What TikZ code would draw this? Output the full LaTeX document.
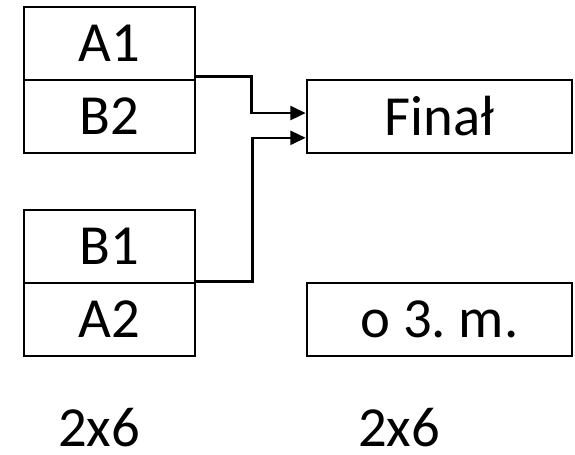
\documentclass[tikz,border=0pt]{standalone}
\usepackage{fontspec}
\setmainfont{Carlito}
\usetikzlibrary{arrows.meta, positioning}
\frenchspacing

\tikzset{
    teambox/.style={rectangle,draw=black,line width=2pt,minimum width=128.25pt,minimum height=54.75pt,inner sep=0pt,font=\fontsize{42.5}{50}\selectfont},
    finalbox/.style={teambox,minimum width=198.75pt},
    conn/.style={line width=1.8pt,-{Triangle[length=11.5pt,width=10.5pt]}}
}

\begin{document}
\begin{tikzpicture}[x=0.75pt,y=-0.75pt]
    \useasboundingbox (0,0) rectangle (575,454);

    % Pary półfinałowe
    \node[teambox] (a1) at (109.5,43.5) {A1};
    \node[teambox] (b2) at (109.5,116.5) {B2};
    \node[teambox] (b1) at (109.5,246.5) {B1};
    \node[teambox] (a2) at (109.5,319.5) {A2};

    % Mecze o medale
    \node[finalbox] (final) at (439.5,116.5) {Finał};
    \node[finalbox] (third) at (439.5,319.5) {o 3. m.};

    % Podpisy
    \node[font=\fontsize{42.5}{50}\selectfont,anchor=base,inner sep=0pt] (lleft) at (99,446) {2x6};
    \node[font=\fontsize{42.5}{50}\selectfont,anchor=base,inner sep=0pt] (lright) at (399,446) {2x6};

    % Połączenia
    \draw[conn] ([yshift=3.75pt]a1.south east) -- ++(55,0) |- ([yshift=2.6pt]final.west);
    \draw[conn] (a2.north east) -- ++(56,0) |- ([yshift=-16pt]final.west);
\end{tikzpicture}
\end{document}
